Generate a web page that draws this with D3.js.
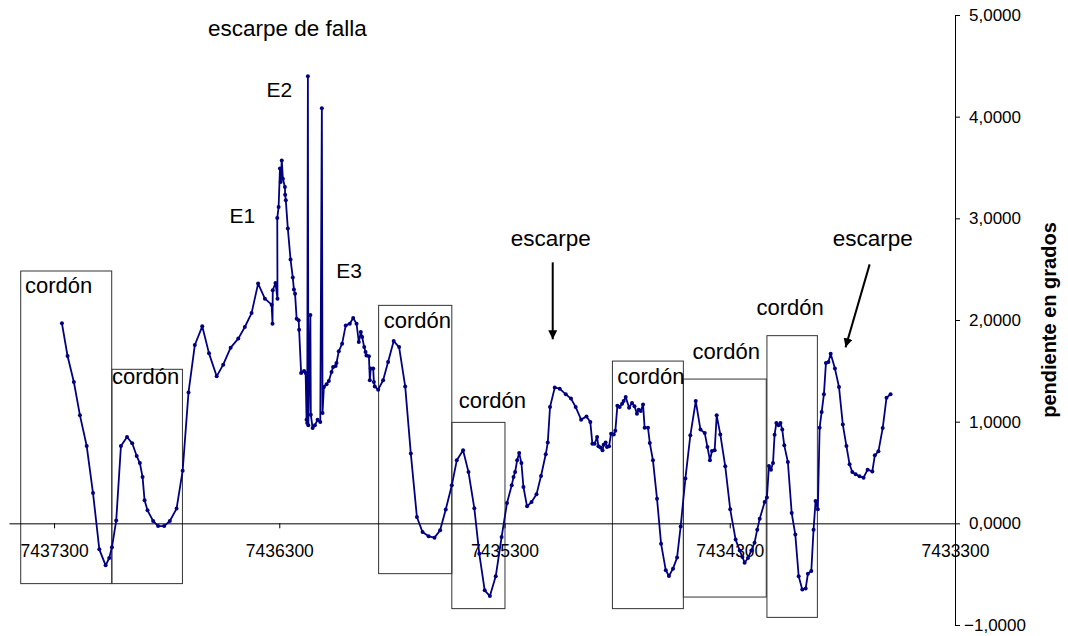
<!DOCTYPE html>
<html>
<head>
<meta charset="utf-8">
<script src="https://cdn.jsdelivr.net/npm/d3@7"></script>
<style>
  body { margin: 0; background: #fff; }
  svg { display: block; font-family: Arial, "Liberation Sans", sans-serif; }
</style>
</head>
<body>
<div id="chart"></div>
<script>
// easting (m) along the profile
var easting = [
  7437265, 7437240, 7437212, 7437185, 7437155, 7437127, 7437099, 7437071, 7437055, 7437043,
  7437024, 7437003, 7436976, 7436953, 7436933, 7436919, 7436907, 7436898, 7436885, 7436860,
  7436838, 7436811, 7436786, 7436756, 7436729, 7436703, 7436675, 7436642, 7436612, 7436578,
  7436549, 7436516, 7436482, 7436453, 7436423, 7436394, 7436364, 7436334, 7436330, 7436329,
  7436317, 7436308, 7436309, 7436303, 7436297, 7436294, 7436289, 7436284, 7436275, 7436274,
  7436271, 7436262, 7436250, 7436240, 7436235, 7436230, 7436223, 7436214, 7436212, 7436203,
  7436190, 7436183, 7436179, 7436176, 7436173, 7436171, 7436162, 7436160, 7436152, 7436142,
  7436130, 7436118, 7436111, 7436108, 7436102, 7436090, 7436080, 7436068, 7436061, 7436050,
  7436046, 7436036, 7436021, 7436005, 7435987, 7435972, 7435957, 7435947, 7435938, 7435932,
  7435923, 7435917, 7435913, 7435902, 7435898, 7435894, 7435883, 7435880, 7435876, 7435861,
  7435839, 7435817, 7435792, 7435768, 7435741, 7435716, 7435689, 7435664, 7435637, 7435611,
  7435586, 7435561, 7435534, 7435512, 7435484, 7435460, 7435434, 7435412, 7435388, 7435365,
  7435339, 7435313, 7435289, 7435268, 7435260, 7435253, 7435244, 7435235, 7435225, 7435216,
  7435200, 7435180, 7435158, 7435138, 7435117, 7435108, 7435098, 7435077, 7435055, 7435028,
  7435005, 7434984, 7434960, 7434936, 7434919, 7434910, 7434900, 7434889, 7434883, 7434874,
  7434865, 7434860, 7434851, 7434845, 7434836, 7434827, 7434815, 7434808, 7434799, 7434789,
  7434778, 7434771, 7434762, 7434747, 7434734, 7434723, 7434712, 7434704, 7434695, 7434685,
  7434678, 7434663, 7434655, 7434641, 7434623, 7434605, 7434584, 7434570, 7434552, 7434534,
  7434518, 7434497, 7434475, 7434451, 7434430, 7434411, 7434399, 7434388, 7434379, 7434367,
  7434358, 7434342, 7434320, 7434298, 7434274, 7434256, 7434244, 7434234, 7434219, 7434204,
  7434190, 7434178, 7434167, 7434145, 7434135, 7434126, 7434117, 7434108, 7434101, 7434093,
  7434083, 7434075, 7434067, 7434058, 7434042, 7434025, 7434009, 7433994, 7433978, 7433963,
  7433953, 7433938, 7433928, 7433919, 7433909, 7433901, 7433892, 7433882, 7433873, 7433862,
  7433852, 7433833, 7433815, 7433798, 7433782, 7433768, 7433756, 7433741, 7433724, 7433706,
  7433688, 7433667, 7433656, 7433640, 7433621, 7433604, 7433586
];

// slope in degrees at each point
var pendiente = [
  1.967, 1.646, 1.390, 1.062, 0.760, 0.298, -0.256, -0.413, -0.341, -0.236,
  0.027, 0.760, 0.849, 0.787, 0.662, 0.593, 0.455, 0.226, 0.128, 0.023,
  -0.027, -0.027, 0.023, 0.145, 0.518, 1.288, 1.754, 1.938, 1.672, 1.446,
  1.561, 1.728, 1.817, 1.931, 2.068, 2.358, 2.210, 2.151, 1.964, 2.292,
  2.364, 2.210, 3.003, 3.111, 3.489, 3.357, 3.570, 3.390, 3.308, 3.233,
  3.177, 2.899, 2.594, 2.417, 2.299, 2.259, 2.013, 1.997, 1.905, 1.478,
  1.498, 1.478, 1.020, 0.987, 4.397, 0.964, 2.050, 1.069, 0.937, 0.964,
  1.020, 0.996, 4.082, 1.085, 1.341, 1.367, 1.400, 1.488, 1.537, 1.547,
  1.577, 1.692, 1.767, 1.947, 1.964, 2.019, 1.964, 1.783, 1.882, 1.832,
  1.734, 1.685, 1.652, 1.643, 1.407, 1.522, 1.522, 1.390, 1.347, 1.315,
  1.407, 1.587, 1.793, 1.734, 1.347, 0.686, 0.062, -0.086, -0.128, -0.141,
  -0.069, 0.135, 0.374, 0.620, 0.718, 0.505, 0.148, -0.300, -0.659, -0.715,
  -0.521, -0.135, 0.200, 0.374, 0.455, 0.505, 0.620, 0.691, 0.593, 0.357,
  0.167, 0.210, 0.285, 0.465, 0.679, 0.794, 1.144, 1.335, 1.325, 1.269,
  1.227, 1.144, 1.020, 1.052, 0.996, 0.784, 0.784, 0.849, 0.757, 0.745,
  0.718, 0.774, 0.794, 0.750, 0.757, 0.882, 0.875, 0.910, 1.156, 1.144,
  1.177, 1.203, 1.242, 1.138, 1.183, 1.151, 1.079, 1.118, 1.105, 1.170,
  0.941, 0.941, 0.790, 0.620, 0.243, -0.200, -0.462, -0.518, -0.446, -0.337,
  -0.030, 0.440, 0.866, 1.203, 0.922, 0.888, 0.750, 0.620, 0.711, 0.718,
  1.062, 0.875, 0.561, 0.138, -0.160, -0.266, -0.331, -0.387, -0.341, -0.266,
  -0.190, -0.062, 0.046, 0.210, 0.253, 0.564, 0.528, 0.593, 0.872, 0.987,
  0.964, 0.987, 0.922, 0.767, 0.603, 0.101, -0.111, -0.521, -0.652, -0.642,
  -0.495, -0.469, -0.062, 0.219, 0.138, 0.941, 1.095, 1.269, 1.577, 1.587,
  1.669, 1.522, 1.341, 0.971, 0.760, 0.580, 0.505, 0.482, 0.462, 0.449,
  0.528, 0.511, 0.669, 0.708, 0.937, 1.236, 1.269
];

var xTicks = [7437300, 7436300, 7435300, 7434300, 7433300];
var yTicks = [-1, 0, 1, 2, 3, 4, 5];

// "cordón" boxes: easting from/to, slope top/bottom
var cordonX0 = [7437448, 7437043, 7435859, 7435534, 7434821, 7434506, 7434135];
var cordonX1 = [7437044, 7436730, 7435534, 7435298, 7434506, 7434138, 7433911];
var cordonTop = [2.482, 1.515, 2.144, 0.993, 1.596, 1.419, 1.846];
var cordonBottom = [-0.593, -0.593, -0.495, -0.839, -0.839, -0.725, -0.925];
// where the "cordón" word sits (left, baseline)
var cordonLabelX = [7437429, 7437043, 7435836, 7435503, 7434800, 7434465, 7434181];
var cordonLabelY = [2.262, 1.367, 1.918, 1.131, 1.367, 1.613, 2.046];

// other notes
var notesText = ["escarpe de falla", "E2", "E1", "E3", "escarpe", "escarpe"];
var notesX = [7436617, 7436357, 7436521, 7436047, 7435272, 7433843];
var notesY = [4.790, 4.195, 2.956, 2.410, 2.724, 2.724];
var notesSize = [22.5, 21, 21, 21, 22.5, 22.5];

// arrows under the "escarpe" notes
var arrowX0 = [7435086, 7433679];
var arrowY0 = [2.567, 2.547];
var arrowX1 = [7435086, 7433786];
var arrowY1 = [1.810, 1.731];

var width = 1068, height = 636;

var svg = d3.select("#chart").append("svg")
  .attr("width", width)
  .attr("height", height);

// x runs from high to low easting, left to right
var x = d3.scaleLinear().domain([7437500, 7433300]).range([9, 955]);
var y = d3.scaleLinear().domain([-1, 5]).range([625, 15]);

svg.append("defs").append("marker")
  .attr("id", "head")
  .attr("viewBox", "0 0 10 10")
  .attr("refX", 10).attr("refY", 5)
  .attr("markerWidth", 9).attr("markerHeight", 9)
  .attr("markerUnits", "userSpaceOnUse")
  .attr("orient", "auto")
  .append("path")
  .attr("d", "M0,0 L10,5 L0,10 z")
  .attr("fill", "#000");

// boxes go behind everything
var boxes = d3.range(cordonX0.length);
svg.append("g").selectAll("rect")
  .data(boxes)
  .join("rect")
  .attr("x", function(i) { return x(cordonX0[i]); })
  .attr("y", function(i) { return y(cordonTop[i]); })
  .attr("width", function(i) { return x(cordonX1[i]) - x(cordonX0[i]); })
  .attr("height", function(i) { return y(cordonBottom[i]) - y(cordonTop[i]); })
  .attr("fill", "none")
  .attr("stroke", "#333")
  .attr("stroke-width", 1);

// x axis sits on slope = 0
var xAxis = svg.append("g")
  .attr("transform", "translate(0," + y(0) + ")")
  .call(d3.axisBottom(x).tickValues(xTicks).tickFormat(d3.format("d"))
    .tickSize(5).tickSizeOuter(0).tickPadding(16));
xAxis.select(".domain").attr("stroke", "#000");
xAxis.selectAll("text").attr("font-size", "17.5px").attr("fill", "#000")
  .attr("font-family", "Arial, 'Liberation Sans', sans-serif");

// y axis on the right
var yAxis = svg.append("g")
  .attr("transform", "translate(" + x(7433300) + ",0)")
  .call(d3.axisRight(y).tickValues(yTicks)
    .tickFormat(function(d) { return d3.format(".4f")(d).replace(".", ","); })
    .tickSize(5).tickSizeOuter(5).tickPadding(6));
yAxis.select(".domain").attr("stroke", "#000");
yAxis.selectAll("text").attr("font-size", "17px").attr("fill", "#000")
  .attr("text-anchor", "middle").attr("x", 40)
  .attr("font-family", "Arial, 'Liberation Sans', sans-serif");

svg.append("text")
  .attr("transform", "translate(1056," + y(2) + ") rotate(-90)")
  .attr("text-anchor", "middle")
  .attr("font-size", "20px")
  .attr("font-weight", "bold")
  .text("pendiente en grados");

// profile line
var pts = d3.range(easting.length);
var line = d3.line()
  .x(function(i) { return x(easting[i]); })
  .y(function(i) { return y(pendiente[i]); });

svg.append("path")
  .datum(pts)
  .attr("d", line)
  .attr("fill", "none")
  .attr("stroke", "#000080")
  .attr("stroke-width", 1.8)
  .attr("stroke-linejoin", "round");

svg.append("g").selectAll("circle")
  .data(pts)
  .join("circle")
  .attr("cx", function(i) { return x(easting[i]); })
  .attr("cy", function(i) { return y(pendiente[i]); })
  .attr("r", 2)
  .attr("fill", "#000080");

// labels
svg.append("g").selectAll("text")
  .data(boxes)
  .join("text")
  .attr("x", function(i) { return x(cordonLabelX[i]); })
  .attr("y", function(i) { return y(cordonLabelY[i]); })
  .attr("font-size", "22px")
  .text("cordón");

svg.append("g").selectAll("text")
  .data(d3.range(notesText.length))
  .join("text")
  .attr("x", function(i) { return x(notesX[i]); })
  .attr("y", function(i) { return y(notesY[i]); })
  .attr("font-size", function(i) { return notesSize[i] + "px"; })
  .text(function(i) { return notesText[i]; });

svg.append("g").selectAll("line")
  .data(d3.range(arrowX0.length))
  .join("line")
  .attr("x1", function(i) { return x(arrowX0[i]); })
  .attr("y1", function(i) { return y(arrowY0[i]); })
  .attr("x2", function(i) { return x(arrowX1[i]); })
  .attr("y2", function(i) { return y(arrowY1[i]); })
  .attr("stroke", "#000")
  .attr("stroke-width", 2)
  .attr("marker-end", "url(#head)");
</script>
</body>
</html>
